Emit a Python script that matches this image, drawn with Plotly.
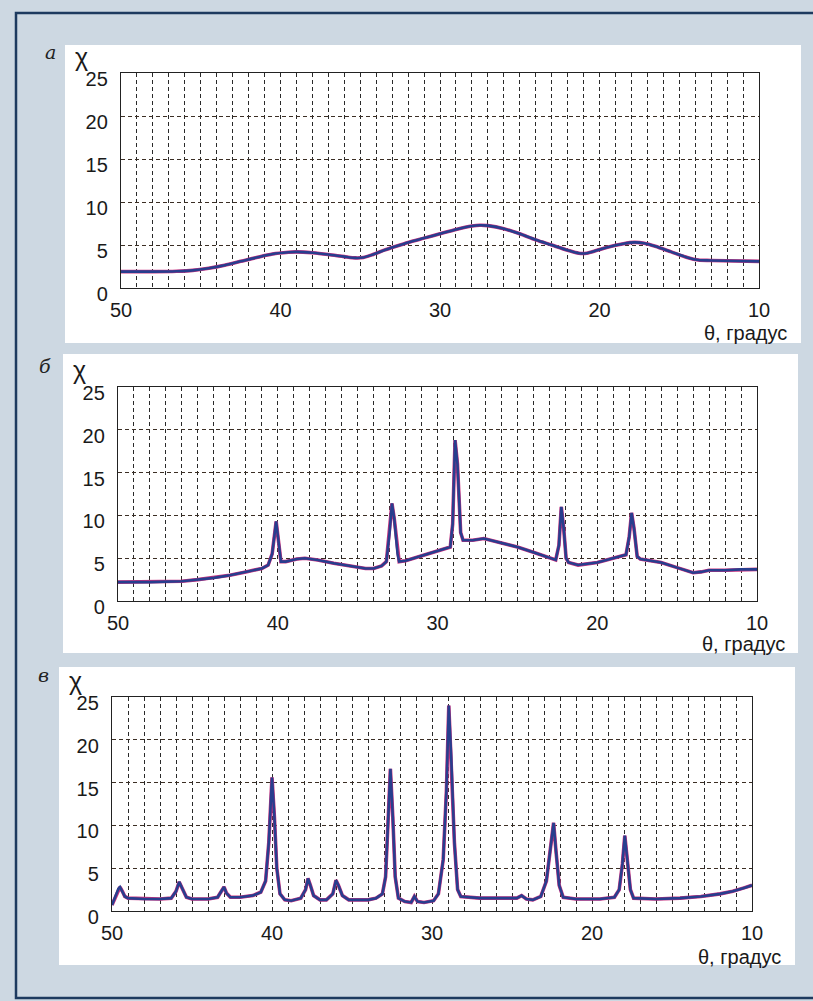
import plotly.graph_objects as go

# ---------------- data ----------------
theta_a = [50, 48, 46.5, 45.5, 44.5, 43.5, 42.5, 41.5, 40.5, 39.5, 39, 38, 37, 36, 35.3, 34.8, 34.2, 33.5, 33,
           32, 31, 30, 29, 28, 27.5, 27, 26, 25, 24, 23, 22, 21.3, 20.8, 20.2, 19.5, 18.5, 17.8, 17.2, 16.5,
           15.5, 14.5, 13.8, 13, 10]
chi_a = [1.9, 1.9, 1.95, 2.05, 2.3, 2.65, 3.1, 3.55, 3.95, 4.15, 4.2, 4.1, 3.9, 3.65, 3.5, 3.55, 3.9, 4.4, 4.7,
         5.3, 5.8, 6.3, 6.8, 7.2, 7.3, 7.25, 6.9, 6.3, 5.6, 5.0, 4.4, 4.05, 4.05, 4.35, 4.75, 5.15, 5.3, 5.2, 4.85,
         4.2, 3.55, 3.25, 3.2, 3.1]

theta_b = [50, 48, 46, 45, 44, 43, 42, 41, 40.6, 40.35, 40.1, 39.95, 39.8, 39.5, 38.8, 38.3, 37.5, 36.5, 35.5,
           34.5, 34.0, 33.5, 33.2, 33.0, 32.85, 32.7, 32.5, 32.4, 32.0, 31, 30, 29.2, 29.05, 28.9, 28.75,
           28.55, 28.4, 27.8, 27.1, 26, 25, 24, 23, 22.6, 22.4, 22.25, 22.1, 21.95, 21.8, 21.2, 20, 19,
           18.2, 18.0, 17.85, 17.7, 17.5, 17.3, 16, 15, 14, 13.5, 13.0, 12, 11, 10]
chi_b = [2.2, 2.2, 2.3, 2.5, 2.7, 3.0, 3.4, 3.8, 4.2, 5.5, 9.3, 7.0, 4.6, 4.6, 4.9, 5.0, 4.8, 4.4, 4.1,
         3.8, 3.8, 4.1, 4.6, 8.0, 11.4, 9.5, 5.5, 4.6, 4.7, 5.3, 5.9, 6.3, 9.0, 18.8, 16.0,
         8.0, 7.1, 7.1, 7.3, 6.8, 6.3, 5.7, 5.0, 4.8, 6.5, 11.0, 8.5, 5.0, 4.5, 4.2, 4.5, 5.0,
         5.4, 7.5, 10.3, 8.5, 5.2, 4.9, 4.5, 3.9, 3.3, 3.4, 3.6, 3.6, 3.7, 3.7]

theta_c = [50, 49.8, 49.6, 49.5, 49.35, 49.2, 49.0, 48, 47, 46.3, 46.0, 45.8, 45.6, 45.35, 45.0, 44,
           43.4, 43.15, 43.0, 42.85, 42.6, 42.0, 41.2, 40.7, 40.4, 40.2, 40.0, 39.85, 39.7, 39.5, 39.2,
           38.8, 38.2, 37.9, 37.75, 37.6, 37.4, 37.0, 36.6, 36.2, 36.0, 35.85, 35.6, 35.2, 34, 33.5,
           33.1, 32.9, 32.75, 32.6, 32.45, 32.3, 32.1, 31.7, 31.3, 31.1, 30.9, 30.5, 29.9, 29.6, 29.3,
           29.1, 28.95, 28.8, 28.6, 28.4, 28.2, 27, 25.5, 24.7, 24.4, 24.1, 23.7, 23.2, 22.85, 22.6,
           22.4, 22.25, 22.05, 21.8, 21, 19.5, 18.6, 18.3, 18.1, 17.95, 17.8, 17.6, 17.4, 16, 14.5,
           13.2, 12, 11.2, 10.5, 10]
chi_c = [0.7, 1.6, 2.6, 2.8, 2.3, 1.7, 1.5, 1.4, 1.4, 1.5, 2.3, 3.4, 2.6, 1.6, 1.4, 1.4,
         1.6, 2.4, 2.8, 2.1, 1.6, 1.6, 1.8, 2.2, 3.5, 8.0, 15.6, 11.0, 5.0, 2.0, 1.3,
         1.2, 1.5, 2.5, 3.8, 3.0, 1.8, 1.3, 1.3, 2.0, 3.6, 3.0, 1.8, 1.3, 1.3, 1.5,
         2.0, 4.0, 10.0, 16.6, 11.0, 4.0, 1.5, 1.1, 1.0, 1.7, 1.1, 1.0, 1.2, 2.0, 6.0,
         14.0, 24.0, 18.0, 8.0, 2.5, 1.7, 1.5, 1.5, 1.5, 1.8, 1.4, 1.3, 1.7, 3.5, 7.0,
         10.3, 7.0, 3.0, 1.6, 1.4, 1.4, 1.6, 2.5, 5.5, 8.8, 6.0, 2.5, 1.5, 1.4, 1.5,
         1.7, 2.0, 2.3, 2.7, 3.0]

x_ticks = [50, 40, 30, 20, 10]
x_minor = [v for v in range(11, 50) if v % 10 != 0]
y_ticks = [0, 5, 10, 15, 20, 25]
panel_letters = ["а", "б", "в"]
x_title = "θ, градус"
y_title = "χ"

# ---------------- layout helpers ----------------
W, H = 813, 1001
def px(x):
    return x / W
def py(y):
    return 1 - y / H

# plot areas (pixels): left, right, top, bottom
areas = [(121, 759, 73, 288), (118, 757, 387, 601), (112, 752, 697, 911)]
panels = [(65, 801, 45, 343), (63, 798, 354, 653), (59, 795, 667, 965)]
letters_pos = [(50, 52), (45, 366), (43, 675)]
chi_pos = [(81, 57), (79, 370), (75, 681)]
xt_pos = [(789, 333), (787, 644), (783, 957)]

BLUE = "#283e8e"
PINK = "#c8327f"
GRID = "#2a2a2a"
FONT = "Liberation Sans, Arial, sans-serif"

fig = go.Figure()
series = [(theta_a, chi_a, "spline"), (theta_b, chi_b, "linear"), (theta_c, chi_c, "linear")]

shapes = []
annotations = []
# page frame
shapes.append(dict(type="path", xref="paper", yref="paper",
                   path=f"M 1.01 {py(13)} L {px(16)} {py(13)} L {px(16)} {py(998)} L 1.01 {py(998)}",
                   line=dict(color="#1d3a5f", width=2.5), layer="below"))

for i, ((xs, ys, shape), (l, r, t, b), (pl, pr, pt, pb)) in enumerate(zip(series, areas, panels)):
    n = "" if i == 0 else str(i + 1)
    shapes.append(dict(type="rect", xref="paper", yref="paper",
                       x0=px(pl), x1=px(pr), y0=py(pb), y1=py(pt),
                       line=dict(width=0), fillcolor="white", layer="below"))
    fig.add_trace(go.Scatter(x=xs, y=ys, mode="lines", xaxis="x" + n, yaxis="y" + n,
                             line=dict(color=PINK, width=3.6, shape=shape, smoothing=0.8),
                             hoverinfo="skip", showlegend=False))
    fig.add_trace(go.Scatter(x=xs, y=ys, mode="lines", xaxis="x" + n, yaxis="y" + n,
                             line=dict(color=BLUE, width=2.6, shape=shape, smoothing=0.8),
                             showlegend=False))
    fig.update_layout(**{
        "xaxis" + n: dict(domain=[px(l), px(r)], anchor="y" + n, range=[50, 10], automargin=False,
                          tickmode="array", tickvals=x_ticks, ticktext=[str(v) for v in x_ticks],
                          ticks="", ticklabelstandoff=4,
                          showgrid=True, gridcolor=GRID, griddash="4px,3px", gridwidth=1,
                          minor=dict(tickmode="array", tickvals=x_minor, showgrid=True,
                                     gridcolor=GRID, griddash="4px,3px", gridwidth=1, ticks=""),
                          showline=True, linecolor="#222", linewidth=1.3, mirror=True,
                          zeroline=False, tickfont=dict(family=FONT, size=20, color="#1a1a1a")),
        "yaxis" + n: dict(domain=[py(b), py(t)], anchor="x" + n, range=[0, 25], automargin=False,
                          tickmode="array", tickvals=y_ticks, ticks="", ticklabelstandoff=8,
                          ticklabelshift=6,
                          showgrid=True, gridcolor="#3b2e24", griddash="4px,3px", gridwidth=1,
                          showline=True, linecolor="#222", linewidth=1.3, mirror=True,
                          zeroline=False, tickfont=dict(family=FONT, size=20, color="#1a1a1a")),
    })
    lx, ly = letters_pos[i]
    annotations.append(dict(xref="paper", yref="paper", x=px(lx), y=py(ly), text=panel_letters[i],
                            showarrow=False, xanchor="center", yanchor="middle",
                            font=dict(family="DejaVu Serif, serif", size=19, color="#222", style="italic")))
    cx, cy = chi_pos[i]
    annotations.append(dict(xref="paper", yref="paper", x=px(cx), y=py(cy), text=y_title,
                            showarrow=False, xanchor="center", yanchor="middle",
                            font=dict(family=FONT, size=25, color="#1a1a1a")))
    tx, ty = xt_pos[i]
    annotations.append(dict(xref="paper", yref="paper", x=px(tx), y=py(ty), text=x_title,
                            showarrow=False, xanchor="right", yanchor="middle",
                            font=dict(family=FONT, size=20, color="#1a1a1a")))

fig.update_layout(width=W, height=H, margin=dict(l=0, r=0, t=0, b=0, pad=0, autoexpand=False),
                  paper_bgcolor="#cdd8e2", plot_bgcolor="rgba(0,0,0,0)",
                  shapes=shapes, annotations=annotations, showlegend=False)

fig.write_html("out.html", config={"displayModeBar": False},
               post_script="document.documentElement.style.margin='0';document.body.style.margin='0';"
                           "document.body.style.overflow='hidden';")
